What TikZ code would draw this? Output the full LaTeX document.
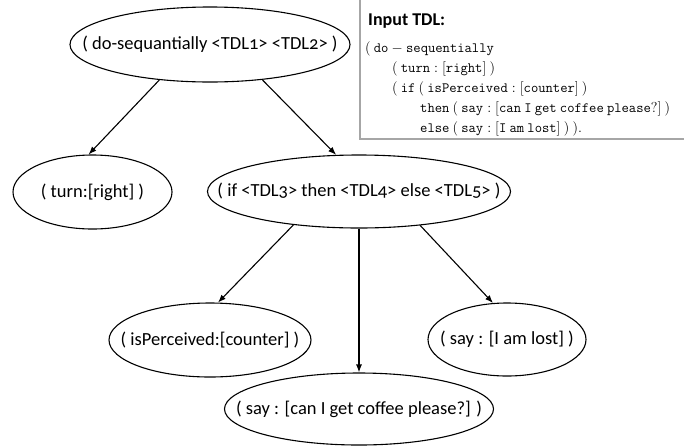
\documentclass[tikz,border=0pt]{standalone}
\usepackage{fontspec}
\setmainfont{Carlito}[Numbers=OldStyle]
\usetikzlibrary{shapes.geometric,arrows.meta}

% label of a tree node, set without width so that the ellipse keeps its given size
\newcommand{\termtext}[1]{\makebox[0pt][c]{#1}}

\begin{document}
\begin{tikzpicture}[x=1pt,y=-1pt,
  term/.style={draw,ellipse,line width=1.1pt,inner sep=0pt,
    font=\fontsize{18.5}{22}\selectfont},
  link/.style={-{Latex[length=8pt,width=6pt]},line width=1.1pt},
  code/.style={anchor=base west,inner sep=0pt,font=\fontsize{14.2}{17}\selectfont}]
\useasboundingbox (0,0) rectangle (684,445);

% expression tree
\node[term,minimum width=280pt,minimum height=75pt] (root) at (210,44.5)
  {\termtext{( do-sequantially <TDL1> <TDL2> )}};
\node[term,minimum width=159pt,minimum height=74pt] (turn) at (92.5,192)
  {\termtext{( turn:[right] )}};
\node[term,minimum width=303pt,minimum height=73pt] (ifn) at (359,191.5)
  {\termtext{( if <TDL3> then <TDL4> else <TDL5> )}};
\node[term,minimum width=202pt,minimum height=74pt] (perc) at (210,340)
  {\termtext{( isPerceived:[counter] )}};
\node[term,minimum width=158pt,minimum height=73pt] (lost) at (507,339.5)
  {\termtext{( say : [I am lost] )}};
\node[term,minimum width=269pt,minimum height=72pt] (coffee) at (359,409)
  {\termtext{( say : [can I get coffee please?] )}};

\draw[link] (root.215.4) -- (turn.96.4);
\draw[link] (root.326.4) -- (ifn.122);
\draw[link] (ifn.207.2) -- (perc.78);
\draw[link] (ifn.south) -- (coffee.north);
\draw[link] (ifn.331.3) -- (lost.111);

% input listing panel
\coordinate (pTop) at (360,0);
\coordinate (pCorner) at (360,139);
\coordinate (pRight) at (684,139);
\draw[line width=1.4pt,black!35] (pTop) -- (pCorner) -- (pRight);

\node[anchor=base west,inner sep=0pt,font=\fontsize{18}{22}\selectfont\bfseries]
  (title) at (368,25) {Input TDL:};
\node[code] (l1) at (365,52) {$(\ \mathtt{do}-\mathtt{sequentially}$};
\node[code] (l2) at (392,72) {$(\ \mathtt{turn}:[\mathtt{right}]\ )$};
\node[code] (l3) at (392,92) {$(\ \mathtt{if}\ (\ \mathtt{isPerceived}:[\mathtt{counter}]\ )$};
\node[code] (l4) at (420,112) {$\mathtt{then}\ (\ \mathtt{say}:[\mathtt{can\ I\ get\ coffee\ please?}]\ )$};
\node[code] (l5) at (420,132) {$\mathtt{else}\ (\ \mathtt{say}:[\mathtt{I\ am\ lost}]\ )\ ).$};
\end{tikzpicture}
\end{document}
